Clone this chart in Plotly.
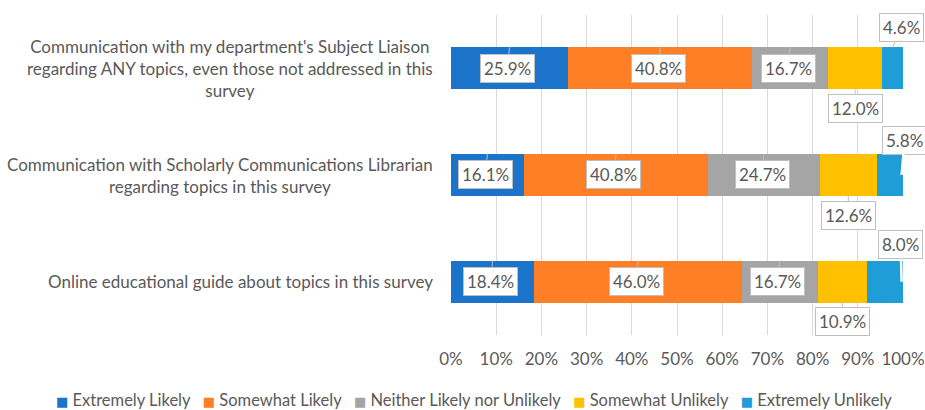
import plotly.graph_objects as go

categories = [
    "Communication with my department's Subject Liaison<br>regarding ANY topics, even those not addressed in this<br>survey",
    "Communication with Scholarly Communications Librarian<br>regarding topics in this survey",
    "Online educational guide about topics in this survey",
]
series_names = ["Extremely Likely", "Somewhat Likely", "Neither Likely nor Unlikely",
                "Somewhat Unlikely", "Extremely Unlikely"]
extremely_likely = [25.9, 16.1, 18.4]
somewhat_likely = [40.8, 40.8, 46.0]
neither = [16.7, 24.7, 16.7]
somewhat_unlikely = [12.0, 12.6, 10.9]
extremely_unlikely = [4.6, 5.8, 8.0]
x_ticks = [0, 10, 20, 30, 40, 50, 60, 70, 80, 90, 100]

series_values = [extremely_likely, somewhat_likely, neither, somewhat_unlikely, extremely_unlikely]
colors = ["#1B74C9", "#FF7F27", "#A5A5A5", "#FFC000", "#1E9DD8"]
# callout placement per series: "in" (inside), "below", "above"
placement = ["in", "in", "in", "below", "above"]
# for "above" callouts: (pointer target, ax, ay) per row
above_style = [("top", 9, -20), ("edge", 3, -35), ("edge", -1, -37)]

FONT = "Lato"
TXT = "#595959"
BARGAP = 0.606
half = (1 - BARGAP) / 2

fig = go.Figure()
for name, vals, col in zip(series_names, series_values, colors):
    fig.add_trace(go.Bar(
        y=list(range(len(categories))), x=[v / 100 for v in vals], name=name,
        orientation="h", marker=dict(color=col, line=dict(width=0)),
        hoverinfo="skip", showlegend=False,
    ))

annotations = []
for r in range(len(categories)):
    cum = 0.0
    for s, vals in enumerate(series_values):
        v = vals[r]
        center = (cum + v / 2) / 100
        end = (cum + v) / 100
        cum += v
        kind = placement[s]
        xx = center
        acol, aw = "#BFBFBF", 1
        if kind == "in":
            yy, ax, ay = r - half, -2, 21
        elif kind == "below":
            yy, ax, ay = r + half, 0, 19
        else:
            tgt, ax, ay = above_style[r]
            if tgt == "top":
                yy = r - half
            else:
                xx, yy = end - 0.003, r
                acol, aw = "white", 2.5
        annotations.append(dict(
            x=xx, y=yy, xref="x", yref="y", text=f"{v:.1f}%",
            showarrow=True, arrowhead=0, arrowwidth=aw, arrowcolor=acol,
            ax=ax, ay=ay, axref="pixel", ayref="pixel",
            bgcolor="white", bordercolor="#BFBFBF", borderwidth=1, borderpad=3,
            font=dict(family=FONT, size=17, color=TXT),
        ))

for r, cat in enumerate(categories):
    annotations.append(dict(
        x=-0.036, y=r, xref="paper", yref="y", text=cat, showarrow=False,
        xanchor="right", yanchor="middle", align="center",
        font=dict(family=FONT, size=17, color=TXT),
    ))

# legend as one centred line of text with coloured square glyphs
legend_parts = [
    f"<span style='color:{c};font-family:DejaVu Sans;font-size:13px'>■</span>&nbsp;{n}"
    for n, c in zip(series_names, colors)
]
annotations.append(dict(
    x=0.0509, y=-0.203, xref="paper", yref="paper",
    text="&nbsp;&nbsp;&nbsp;".join(legend_parts), showarrow=False,
    xanchor="center", yanchor="middle",
    font=dict(family=FONT, size=16.5, color=TXT),
))

fig.update_layout(
    barmode="stack",
    bargap=BARGAP,
    width=925, height=410,
    margin=dict(l=451, r=22, t=15, b=75, autoexpand=False),
    paper_bgcolor="white", plot_bgcolor="white",
    font=dict(family=FONT, size=17, color=TXT),
    annotations=annotations,
    showlegend=False,
    xaxis=dict(range=[0, 1], tickvals=[t / 100 for t in x_ticks],
               ticktext=[f"{t}%" for t in x_ticks],
               showgrid=True, gridcolor="#D9D9D9", gridwidth=1,
               zeroline=False, showline=False, ticks="",
               tickfont=dict(family=FONT, size=17, color=TXT), ticklabelstandoff=12,
               fixedrange=True),
    yaxis=dict(range=[len(categories) - 0.5, -0.5], showticklabels=False,
               showgrid=False, zeroline=False, showline=False, ticks="", fixedrange=True),
)

fig.write_html("out.html")
